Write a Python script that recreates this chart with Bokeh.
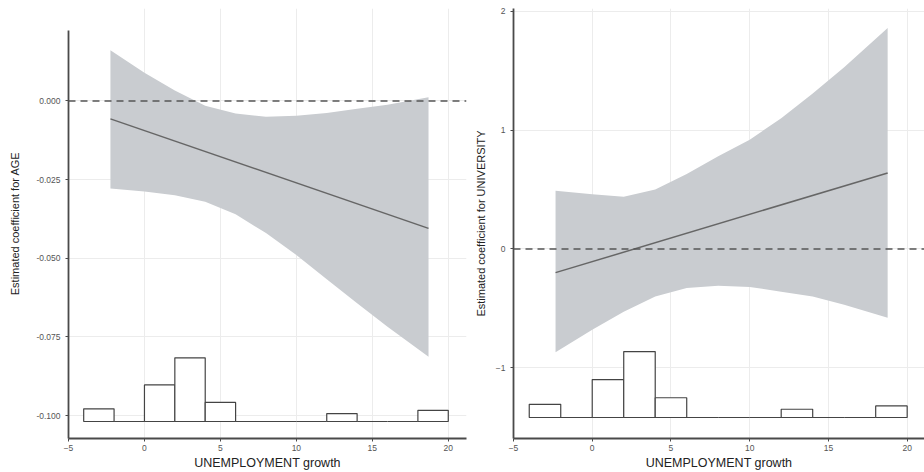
from bokeh.plotting import figure
from bokeh.layouts import row
from bokeh.models import Span, FixedTicker, NumeralTickFormatter, Range1d
from bokeh.embed import file_html
from bokeh.resources import INLINE

# ---- data ----
bin_left = [-4, -2, 0, 2, 4, 6, 8, 10, 12, 14, 16, 18]
bin_width = 2
hist_pct = [8, 0, 23, 40, 12, 0, 0, 0, 5, 0, 0, 7]

age_x = [-2.24, 0, 2, 4, 6, 8, 10, 12, 14, 16, 18.7]
age_upper = [0.0161, 0.0090, 0.0033, -0.0015, -0.0040, -0.0050, -0.0047, -0.0038, -0.0025, -0.0012, 0.0012]
age_lower = [-0.0278, -0.0288, -0.0300, -0.0320, -0.0360, -0.0420, -0.0490, -0.0567, -0.0643, -0.0718, -0.0813]
age_line_x = [-2.24, 18.7]
age_line_y = [-0.0057, -0.0405]

uni_x = [-2.33, 0, 2, 4, 6, 8, 10, 12, 14, 16, 18.76]
uni_upper = [0.49, 0.46, 0.44, 0.50, 0.63, 0.78, 0.92, 1.10, 1.31, 1.53, 1.86]
uni_lower = [-0.87, -0.68, -0.53, -0.40, -0.33, -0.31, -0.32, -0.36, -0.40, -0.47, -0.58]
uni_line_x = [-2.33, 18.76]
uni_line_y = [-0.20, 0.64]

x_ticks = [-5, 0, 5, 10, 15, 20]
age_ticks = [0.0, -0.025, -0.05, -0.075, -0.1]
uni_ticks = [-1, 0, 1, 2]

FONT = "Liberation Sans"
BAND = "#c9ccd0"
AXIS = "#4a4a4a"


def make(width, height, xr, yr, ybounds, ylabel, yticks, fmt, borders, base, scale,
         bx, up, lo, lx, ly, ylab_standoff):
    p = figure(width=width, height=height, output_backend="svg",
               toolbar_location=None, x_range=Range1d(*xr), y_range=Range1d(*yr))
    p.min_border_left, p.min_border_right, p.min_border_top, p.min_border_bottom = borders
    p.outline_line_color = None
    p.background_fill_color = "white"
    p.border_fill_color = "white"
    p.grid.grid_line_color = "#ececec"
    p.grid.grid_line_width = 1
    p.xaxis.ticker = FixedTicker(ticks=x_ticks)
    p.yaxis.ticker = FixedTicker(ticks=yticks)
    p.yaxis.bounds = ybounds
    if fmt:
        p.yaxis.formatter = NumeralTickFormatter(format=fmt)
    for ax in (p.xaxis, p.yaxis):
        ax.axis_line_color = AXIS
        ax.axis_line_width = 1.8
        ax.major_tick_line_color = AXIS
        ax.major_tick_out = 3
        ax.major_tick_in = 0
        ax.minor_tick_line_color = None
        ax.major_label_text_font = FONT
        ax.major_label_text_font_size = "8.5px"
        ax.major_label_text_color = "#555555"
        ax.axis_label_text_font = FONT
        ax.axis_label_text_font_style = "normal"
        ax.axis_label_text_color = "#222222"
    p.xaxis.axis_label = "UNEMPLOYMENT growth"
    p.xaxis.axis_label_text_font_size = "12.5px"
    p.xaxis.axis_label_standoff = 2
    p.xaxis.major_label_standoff = 3
    p.yaxis.axis_label = ylabel
    p.yaxis.axis_label_text_font_size = "11px"
    p.yaxis.axis_label_standoff = ylab_standoff

    p.varea(x=bx, y1=lo, y2=up, fill_color=BAND, fill_alpha=1)
    p.line(lx, ly, line_color="#666666", line_width=1.5)
    p.add_layout(Span(location=0, dimension="width", line_color="#555555",
                      line_width=1.5, line_dash="7 5"))
    rights = [b + bin_width for b in bin_left]
    tops = [base + h * scale for h in hist_pct]
    p.quad(left=bin_left, right=rights, bottom=base, top=tops,
           fill_color="white", line_color="#444444", line_width=1.2)
    return p


p1 = make(468, 472, (-5, 21.2), (-0.1073, 0.0294), (-0.1073, 0.0225),
          "Estimated coefficient for AGE", age_ticks, "0.000",
          (68, 2, 8, 32), -0.1019, 0.000506,
          age_x, age_upper, age_lower, age_line_x, age_line_y, 12)
p2 = make(456, 472, (-5, 21.1), (-1.597, 2.025), (-1.597, 2.025),
          "Estimated coefficient for UNIVERSITY", uni_ticks, None,
          (45, 0, 8, 32), -1.42, 0.01387,
          uni_x, uni_upper, uni_lower, uni_line_x, uni_line_y, 6)

layout = row(p1, p2)
open("out.html", "w").write(file_html(layout, INLINE))
